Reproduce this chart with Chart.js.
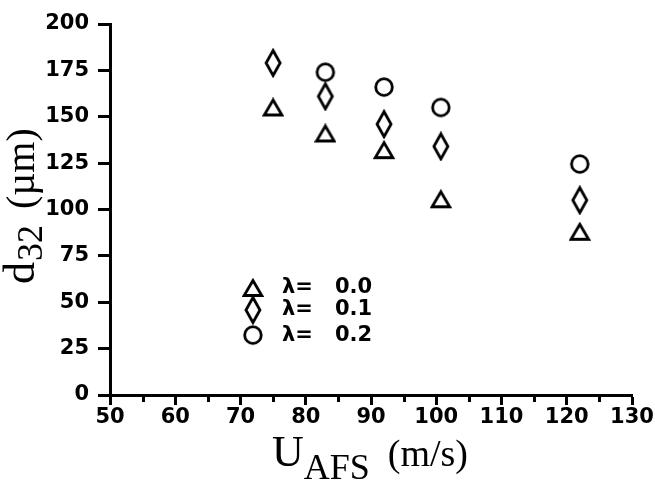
<!DOCTYPE html>
<html>
<head>
<meta charset="utf-8">
<script src="https://cdn.jsdelivr.net/npm/chart.js@4/dist/chart.umd.min.js"></script>
<style>
  html, body { margin: 0; padding: 0; background: #fff; }
</style>
</head>
<body>
<canvas id="dropChart" width="655" height="485"></canvas>
<script>
// Sauter mean diameter vs. air speed, one series per lambda

const speeds = [75, 83, 92, 100.7, 122];
const d32Lambda00 = [155, 141, 132, 105.5, 88];
const d32Lambda01 = [179, 161, 146, 134, 105];
const d32Lambda02 = [null, 174, 166, 155, 124.5];
const lambdaLabels = ['0.0', '0.1', '0.2'];

const ink = '#000';

// hollow markers drawn once, used as point styles
function makeMarker(kind) {
	const c = document.createElement('canvas');
	const ctx = c.getContext('2d');
	if (kind === 'triangle') {
		c.width = 22; c.height = 20;
		ctx.beginPath();
		ctx.moveTo(11, 2.5);
		ctx.lineTo(19.8, 17.5);
		ctx.lineTo(2.2, 17.5);
		ctx.closePath();
	} else if (kind === 'diamond') {
		c.width = 20; c.height = 30;
		ctx.beginPath();
		ctx.moveTo(10, 2.5);
		ctx.lineTo(17, 15);
		ctx.lineTo(10, 27.5);
		ctx.lineTo(3, 15);
		ctx.closePath();
	} else {
		c.width = 22; c.height = 22;
		ctx.beginPath();
		ctx.arc(11, 11, 8.3, 0, Math.PI * 2);
	}
	ctx.lineWidth = 2.8;
	ctx.strokeStyle = ink;
	ctx.stroke();
	return c;
}

const markers = [makeMarker('triangle'), makeMarker('diamond'), makeMarker('circle')];

function toPoints(ys) {
	return speeds.map((x, i) => ({x: x, y: ys[i]})).filter(p => p.y !== null);
}

// axis titles with subscripts, minor x ticks and the in-plot key
const extras = {
	id: 'extras',
	afterDraw(chart) {
		const ctx = chart.ctx;
		const xs = chart.scales.x, ys = chart.scales.y;
		const area = chart.chartArea;
		ctx.save();
		ctx.strokeStyle = ink;
		ctx.fillStyle = ink;

		// minor ticks
		ctx.lineWidth = 3;
		for (let v = 55; v < 130; v += 10) {
			const px = Math.round(xs.getPixelForValue(v)) + 0.5;
			ctx.beginPath();
			ctx.moveTo(px, area.bottom);
			ctx.lineTo(px, area.bottom + 7);
			ctx.stroke();
		}

		// key
		const keyX = xs.getPixelForValue(71.9);
		const keyRows = [57.7, 45.8, 32.3];
		ctx.font = 'bold 21px "DejaVu Sans"';
		ctx.textBaseline = 'middle';
		ctx.textAlign = 'left';
		keyRows.forEach((row, i) => {
			const py = ys.getPixelForValue(row);
			const m = markers[i];
			ctx.drawImage(m, keyX - m.width / 2, py - m.height / 2);
			ctx.fillText('\u03bb=', keyX + 29, py);
			ctx.fillText(lambdaLabels[i], keyX + 82, py);
		});

		// x title: U_AFS (m/s)
		ctx.textBaseline = 'alphabetic';
		let tx = 272;
		ctx.font = '44px "Liberation Serif"';
		ctx.fillText('U', tx, 466);
		tx += ctx.measureText('U').width;
		ctx.font = '36px "Liberation Serif"';
		ctx.fillText('AFS', tx, 479);
		tx += ctx.measureText('AFS').width + 18;
		ctx.font = '38px "Liberation Serif"';
		ctx.fillText('(m/s)', tx, 466);

		// y title: d_32 (um), rotated
		ctx.translate(34, 284);
		ctx.rotate(-Math.PI / 2);
		let ty = 0;
		ctx.font = '44px "Liberation Serif"';
		ctx.fillText('d', ty, 0);
		ty += ctx.measureText('d').width + 1;
		ctx.font = '36px "Liberation Serif"';
		ctx.fillText('32', ty, 8);
		ty += ctx.measureText('32').width + 16;
		ctx.font = '40px "Liberation Serif"';
		ctx.fillText('(\u00b5m)', ty, 0);
		ctx.restore();
	}
};

const tickFont = {family: 'DejaVu Sans', size: 21, weight: 'bold'};

new Chart(document.getElementById('dropChart'), {
	type: 'scatter',
	data: {
		datasets: [
			{label: '\u03bb = 0.0', data: toPoints(d32Lambda00), pointStyle: markers[0]},
			{label: '\u03bb = 0.1', data: toPoints(d32Lambda01), pointStyle: markers[1]},
			{label: '\u03bb = 0.2', data: toPoints(d32Lambda02), pointStyle: markers[2]}
		]
	},
	options: {
		responsive: false,
		animation: false,
		layout: {padding: {top: 24, right: 23, left: 0, bottom: 0}},
		plugins: {
			legend: {display: false},
			tooltip: {enabled: false}
		},
		scales: {
			x: {
				type: 'linear',
				min: 50,
				max: 130,
				ticks: {stepSize: 10, color: ink, font: tickFont, padding: 0, maxRotation: 0},
				grid: {drawOnChartArea: false, tickLength: 10, tickWidth: 3, tickColor: ink},
				border: {display: true, width: 3, color: ink},
				afterFit(scale) { scale.height = 90; }
			},
			y: {
				min: 0,
				max: 200,
				ticks: {stepSize: 25, color: ink, font: tickFont, padding: 9},
				grid: {drawOnChartArea: false, tickLength: 12, tickWidth: 3, tickColor: ink},
				border: {display: true, width: 3, color: ink},
				afterFit(scale) { scale.width = 110; }
			}
		}
	},
	plugins: [extras]
});
</script>
</body>
</html>
